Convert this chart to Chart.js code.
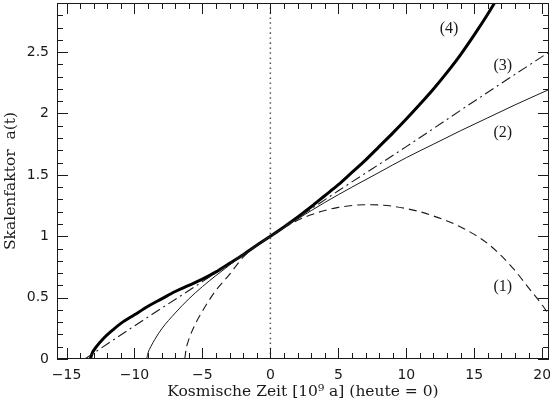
<!DOCTYPE html>
<html>
<head>
<meta charset="utf-8">
<script src="https://cdn.jsdelivr.net/npm/chart.js@4.4.1/dist/chart.umd.min.js"></script>
<style>
  html, body { margin: 0; padding: 0; background: #fff; }
  #wrap { width: 550px; height: 400px; }
</style>
</head>
<body>
<div id="wrap"><canvas id="chart" width="550" height="400"></canvas></div>
<script>
// ---- data ----
// (1) closed universe, dashed
const t1 = [-6.3, -6.2, -6, -5.5, -5, -4.5, -4, -3, -2, -1, 0, 1, 2, 3, 4, 5, 6, 7, 8, 9, 10, 11, 12, 13, 14, 15, 16, 17, 18, 19, 20, 20.5];
const a1 = [0, 0.08, 0.16, 0.29, 0.39, 0.48, 0.56, 0.69, 0.83, 0.922, 1, 1.07, 1.13, 1.175, 1.21, 1.235, 1.25, 1.257, 1.255, 1.245, 1.225, 1.2, 1.165, 1.125, 1.075, 1.015, 0.94, 0.84, 0.72, 0.58, 0.44, 0.36];

// (2) thin solid
const t2 = [-9.1, -9, -8.8, -8.5, -8, -7, -6, -5, -4, -3, -2, -1, 0, 2, 4, 6, 8, 10, 12, 14, 16, 18, 20.5];
const a2 = [0, 0.05, 0.1, 0.16, 0.245, 0.375, 0.49, 0.59, 0.68, 0.765, 0.85, 0.925, 1, 1.14, 1.275, 1.4, 1.52, 1.64, 1.75, 1.86, 1.965, 2.07, 2.195];

// (3) dash-dot
const t3 = [-13.65, -10, -5, 0, 5, 10, 15, 20.5];
const a3 = [0, 0.27, 0.63, 1, 1.37, 1.73, 2.1, 2.5];

// (4) thick solid
const t4 = [-13.25, -13.1, -12.8, -12.3, -11.5, -11, -10, -9, -8, -7, -6, -5, -4, -3, -2, -1, 0, 1, 2, 3, 4, 5, 6, 7, 8, 9, 10, 11, 12, 13, 14, 15, 16, 16.6];
const a4 = [0, 0.05, 0.1, 0.165, 0.245, 0.29, 0.36, 0.43, 0.49, 0.55, 0.6, 0.65, 0.71, 0.78, 0.85, 0.927, 1, 1.076, 1.155, 1.24, 1.33, 1.42, 1.52, 1.62, 1.73, 1.84, 1.955, 2.075, 2.2, 2.335, 2.48, 2.64, 2.81, 2.92];

// heute = 0 marker
const tNow = [0, 0];
const aNow = [0, 2.9];

const curveNames = ["(1)", "(2)", "(3)", "(4)"];
const xTicks = [-15, -10, -5, 0, 5, 10, 15, 20];
const yTicks = [0, 0.5, 1, 1.5, 2, 2.5];

// ---- helpers ----
const pts = (xs, ys) => xs.map((x, i) => ({ x, y: ys[i] }));
const ink = "#1a1a1a";
const minus = (v) => String(v).replace("-", "\u2212");
const tickFont = { family: "'DejaVu Sans', sans-serif", size: 14 };
const titleFont = { family: "'DejaVu Serif', serif", size: 15.5, lineHeight: 1 };

// curve labels, placed in data coords
const curveLabels = [
  { text: curveNames[3], x: 13.15, y: 2.69 },
  { text: curveNames[2], x: 17.1, y: 2.39 },
  { text: curveNames[1], x: 17.1, y: 1.84 },
  { text: curveNames[0], x: 17.1, y: 0.585 }
];

// frame with inward ticks on all four sides + curve labels
const frameTicks = {
  id: "frameTicks",
  afterDraw(chart) {
    const { ctx, chartArea: ca, scales: { x, y } } = chart;
    ctx.save();
    ctx.strokeStyle = ink;
    ctx.lineWidth = 1;
    ctx.strokeRect(ca.left + 0.5, ca.top + 0.5, ca.right - ca.left - 1, ca.bottom - ca.top - 1);
    ctx.beginPath();
    for (let v = -15; v <= 20; v++) {
      const px = Math.round(x.getPixelForValue(v)) + 0.5;
      const len = v % 5 === 0 ? 11 : 6;
      ctx.moveTo(px, ca.bottom); ctx.lineTo(px, ca.bottom - len);
      ctx.moveTo(px, ca.top); ctx.lineTo(px, ca.top + len);
    }
    for (let i = 0; i <= 28; i++) {
      const py = Math.round(y.getPixelForValue(i / 10)) + 0.5;
      const len = i % 5 === 0 ? 11 : 6;
      ctx.moveTo(ca.left, py); ctx.lineTo(ca.left + len, py);
      ctx.moveTo(ca.right, py); ctx.lineTo(ca.right - len, py);
    }
    ctx.stroke();

    ctx.fillStyle = ink;
    ctx.font = "16px 'Liberation Serif', serif";
    ctx.textAlign = "center";
    ctx.textBaseline = "middle";
    for (const l of curveLabels) {
      ctx.fillText(l.text, x.getPixelForValue(l.x), y.getPixelForValue(l.y));
    }
    ctx.restore();
  }
};

// fixed axis boxes so the plot area matches the original frame
const fixBox = (dim, size) => (s) => {
  s[dim] = size;
  s.paddingTop = 0; s.paddingBottom = 0; s.paddingLeft = 0; s.paddingRight = 0;
};

new Chart(document.getElementById("chart"), {
  type: "scatter",
  data: {
    datasets: [
      { data: pts(tNow, aNow), borderColor: "#555", borderWidth: 1.5, borderDash: [1.5, 3.5] },
      { data: pts(t1, a1), borderColor: ink, borderWidth: 1.1, borderDash: [8, 5] },
      { data: pts(t2, a2), borderColor: ink, borderWidth: 1 },
      { data: pts(t3, a3), borderColor: ink, borderWidth: 1.1, borderDash: [10, 4, 2, 4] },
      { data: pts(t4, a4), borderColor: "#000", borderWidth: 3 }
    ].map(d => Object.assign({ showLine: true, pointRadius: 0, fill: false, cubicInterpolationMode: "monotone" }, d))
  },
  options: {
    responsive: false,
    animation: false,
    events: [],
    layout: { padding: { top: 3, right: 1, left: 0, bottom: 0 } },
    plugins: { legend: { display: false }, tooltip: { enabled: false } },
    scales: {
      x: {
        type: "linear", min: -15.7, max: 20.5,
        grid: { display: false, drawTicks: false },
        border: { display: false },
        afterBuildTicks: (s) => { s.ticks = xTicks.map(value => ({ value })); },
        afterFit: fixBox("height", 41),
        ticks: { padding: 8, color: ink, font: tickFont, callback: minus },
        title: { display: true, text: "Kosmische Zeit [10\u2079 a] (heute = 0)", color: ink,
                 font: titleFont, padding: { top: 0, bottom: 0 } }
      },
      y: {
        type: "linear", min: 0, max: 2.9,
        grid: { display: false, drawTicks: false },
        border: { display: false },
        afterBuildTicks: (s) => { s.ticks = yTicks.map(value => ({ value })); },
        afterFit: fixBox("width", 57),
        ticks: { padding: 8, color: ink, font: tickFont, callback: (v) => String(v) },
        title: { display: true, text: "Skalenfaktor  a(t)", color: ink,
                 font: titleFont, padding: { top: 3, bottom: 0 } }
      }
    }
  },
  plugins: [frameTicks]
});
</script>
</body>
</html>
